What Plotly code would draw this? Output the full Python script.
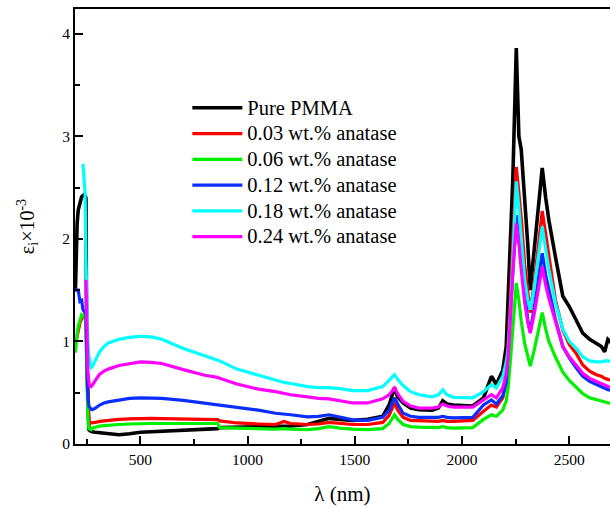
import plotly.graph_objects as go

wavelength = [197, 200, 205, 210, 218, 226, 232, 237, 242, 246, 250, 255, 260, 265, 270, 275,
              290, 310, 330, 350, 400, 450, 500, 550, 600, 700, 800, 860, 870, 950, 1050, 1130,
              1170, 1200, 1280, 1330, 1380, 1430, 1490, 1560, 1630, 1660, 1685, 1700, 1725, 1760,
              1800, 1860, 1890, 1910, 1930, 1960, 2050, 2100, 2137, 2160, 2190, 2206, 2215, 2225,
              2237, 2253, 2265, 2276, 2292, 2307, 2318, 2335, 2355, 2374, 2390, 2405, 2435, 2470,
              2500, 2533, 2563, 2595, 2626, 2650, 2665, 2680, 2700]

pure_pmma = [1.50, 2.00, 2.15, 2.28, 2.35, 2.41, 2.42, 2.43, 2.42, 2.40, 0.80, 0.25, 0.14, 0.13, 0.125, 0.12,
             0.115, 0.11, 0.105, 0.10, 0.09, 0.10, 0.115, 0.12, 0.125, 0.135, 0.145, 0.15, 0.16, 0.165, 0.17, 0.17,
             0.18, 0.175, 0.19, 0.22, 0.25, 0.24, 0.23, 0.24, 0.27, 0.38, 0.55, 0.46, 0.40, 0.35,
             0.335, 0.33, 0.35, 0.42, 0.39, 0.38, 0.37, 0.45, 0.66, 0.58, 0.72, 0.95, 1.50, 2.00,
             2.60, 3.86, 3.00, 2.87, 2.41, 1.93, 1.50, 1.85, 2.25, 2.69, 2.40, 2.18, 1.83, 1.44,
             1.34, 1.21, 1.08, 1.02, 0.98, 0.95, 0.90, 1.02, 0.98]

anatase_003 = [None, 1.00, 1.05, 1.10, 1.18, 1.22, 1.24, 1.25, 1.24, 1.22, 0.80, 0.35, 0.22, 0.205, 0.205, 0.205,
               0.21, 0.22, 0.225, 0.23, 0.24, 0.245, 0.25, 0.25, 0.248, 0.245, 0.24, 0.237, 0.225, 0.205, 0.195, 0.19,
               0.22, 0.20, 0.19, 0.195, 0.21, 0.20, 0.19, 0.19, 0.21, 0.28, 0.40, 0.33, 0.26, 0.23,
               0.225, 0.22, 0.22, 0.23, 0.22, 0.22, 0.23, 0.32, 0.38, 0.36, 0.45, 0.62, 0.95, 1.40,
               2.00, 2.70, 2.45, 2.20, 1.75, 1.45, 1.28, 1.55, 1.95, 2.27, 2.05, 1.85, 1.41, 1.11,
               0.97, 0.88, 0.77, 0.71, 0.675, 0.66, 0.64, 0.63, 0.62]

anatase_006 = [0.89, 0.98, 1.08, 1.15, 1.22, 1.26, 1.25, 1.24, 1.24, 1.22, 0.70, 0.25, 0.15, 0.14, 0.14, 0.155,
               0.165, 0.175, 0.18, 0.185, 0.19, 0.195, 0.20, 0.20, 0.20, 0.20, 0.20, 0.20, 0.16, 0.155, 0.15, 0.145,
               0.15, 0.145, 0.14, 0.15, 0.17, 0.155, 0.145, 0.14, 0.15, 0.20, 0.285, 0.24, 0.19, 0.17,
               0.165, 0.16, 0.16, 0.17, 0.16, 0.155, 0.16, 0.24, 0.285, 0.27, 0.33, 0.42, 0.55, 0.80,
               1.15, 1.57, 1.40, 1.20, 0.98, 0.84, 0.76, 0.90, 1.10, 1.28, 1.12, 1.00, 0.85, 0.70,
               0.62, 0.55, 0.49, 0.45, 0.43, 0.42, 0.41, 0.40, 0.39]

anatase_012 = [1.52, 1.50, 1.50, 1.50, 1.39, 1.40, 1.31, 1.29, 1.28, 1.28, 1.00, 0.45, 0.37, 0.35, 0.34, 0.335,
               0.35, 0.38, 0.40, 0.41, 0.43, 0.445, 0.45, 0.45, 0.445, 0.425, 0.40, 0.385, 0.375, 0.355, 0.33, 0.30,
               0.295, 0.285, 0.265, 0.27, 0.285, 0.26, 0.235, 0.23, 0.26, 0.33, 0.45, 0.39, 0.30, 0.27,
               0.26, 0.26, 0.26, 0.27, 0.26, 0.255, 0.26, 0.38, 0.43, 0.39, 0.47, 0.60, 0.90, 1.30,
               1.75, 2.23, 2.00, 1.80, 1.45, 1.20, 1.10, 1.30, 1.60, 1.86, 1.65, 1.50, 1.22, 0.95,
               0.84, 0.74, 0.66, 0.61, 0.58, 0.56, 0.55, 0.53, 0.52]

anatase_018 = [None, None, None, None, None, None, 2.73, 2.62, 2.45, 1.80, 1.35, 1.00, 0.85, 0.77, 0.745, 0.75,
               0.82, 0.90, 0.95, 0.985, 1.02, 1.04, 1.05, 1.045, 1.02, 0.93, 0.86, 0.82, 0.81, 0.73, 0.67, 0.62,
               0.60, 0.59, 0.56, 0.55, 0.55, 0.54, 0.52, 0.52, 0.56, 0.62, 0.675, 0.63, 0.57, 0.51,
               0.48, 0.46, 0.48, 0.53, 0.48, 0.455, 0.45, 0.51, 0.58, 0.545, 0.66, 0.80, 0.92, 1.25,
               1.85, 2.56, 2.30, 2.00, 1.60, 1.40, 1.31, 1.50, 1.85, 2.12, 1.90, 1.70, 1.38, 1.12,
               1.00, 0.93, 0.85, 0.81, 0.80, 0.80, 0.81, 0.81, 0.80]

anatase_024 = [None, None, None, None, None, None, None, None, None, 1.60, 1.00, 0.72, 0.60, 0.56, 0.56, 0.57,
               0.62, 0.68, 0.71, 0.73, 0.765, 0.785, 0.80, 0.795, 0.785, 0.725, 0.67, 0.65, 0.64, 0.585, 0.535, 0.51,
               0.49, 0.48, 0.46, 0.445, 0.44, 0.42, 0.40, 0.40, 0.44, 0.48, 0.545, 0.49, 0.415, 0.37,
               0.35, 0.35, 0.36, 0.39, 0.37, 0.36, 0.36, 0.43, 0.48, 0.45, 0.55, 0.68, 0.85, 1.20,
               1.70, 2.15, 1.95, 1.70, 1.38, 1.18, 1.08, 1.25, 1.50, 1.73, 1.55, 1.42, 1.20, 0.95,
               0.85, 0.76, 0.69, 0.64, 0.61, 0.59, 0.575, 0.56, 0.55]

series_names = ["Pure PMMA", "0.03 wt.% anatase", "0.06 wt.% anatase",
                "0.12 wt.% anatase", "0.18 wt.% anatase", "0.24 wt.% anatase"]
series_values = [pure_pmma, anatase_003, anatase_006, anatase_012, anatase_018, anatase_024]
series_colors = ["#000000", "#ff0000", "#00f000", "#0a2eff", "#00ffff", "#ff00ff"]
series_widths = [3.6, 3.2, 3.2, 3.2, 3.2, 3.2]

x_tick_vals = [500, 1000, 1500, 2000, 2500]
y_tick_vals = [0, 1, 2, 3, 4]

FONT = "Liberation Serif"

fig = go.Figure()
for name, vals, col, w in zip(series_names, series_values, series_colors, series_widths):
    fig.add_trace(go.Scatter(x=wavelength, y=vals, mode="lines",
                             name='<span style="font-size:20.5px">' + name + '</span>',
                             line=dict(color=col, width=w), connectgaps=False))

fig.update_layout(
    width=610, height=509,
    margin=dict(l=75, r=0, t=9, b=65, autoexpand=False),
    paper_bgcolor="white", plot_bgcolor="white",
    font=dict(family=FONT, color="black"),
    showlegend=True,
    legend=dict(x=0.21, y=0.814, xanchor="left", yanchor="top",
                bgcolor="rgba(0,0,0,0)", font=dict(family=FONT, size=17.5, color="black"),
                itemwidth=50),
    xaxis=dict(range=[195, 2690], tickvals=x_tick_vals, ticks="inside", ticklen=8, tickwidth=1.5,
               tickcolor="black", showline=True, linecolor="black", linewidth=2, mirror=True,
               showgrid=False, zeroline=False, tickfont=dict(family=FONT, size=15.5),
               automargin=False,
               minor=dict(tickvals=[250, 750, 1250, 1750, 2250], ticks="inside", ticklen=5,
                          tickwidth=1.5, tickcolor="black", showgrid=False),
               title=dict(text="λ (nm)", font=dict(family=FONT, size=21), standoff=20)),
    yaxis=dict(range=[0, 4.24], tickvals=y_tick_vals, ticks="inside", ticklen=8, tickwidth=1.5,
               tickcolor="black", showline=True, linecolor="black", linewidth=2, mirror=False,
               showgrid=False, zeroline=False, tickfont=dict(family=FONT, size=15.5),
               automargin=False,
               minor=dict(tickvals=[0.5, 1.5, 2.5, 3.5], ticks="inside", ticklen=5,
                          tickwidth=1.5, tickcolor="black", showgrid=False),
               title=dict(text="ε<sub>i</sub>×10<sup>-3</sup>", font=dict(family=FONT, size=20),
                          standoff=22)),
)

fig.write_html("out.html", config={"displayModeBar": False},
               post_script="document.body.style.margin='0px';")
